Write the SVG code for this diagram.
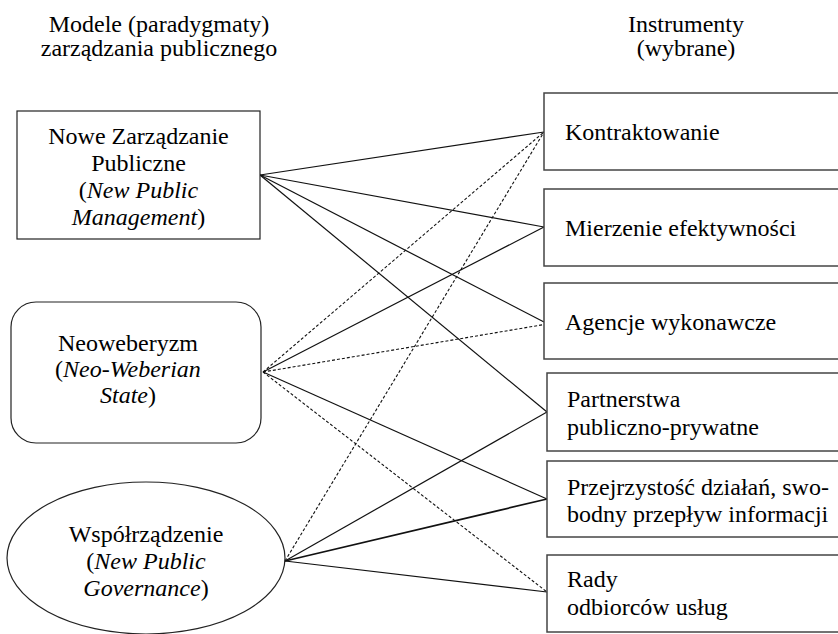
<svg xmlns="http://www.w3.org/2000/svg" width="838" height="634" viewBox="0 0 838 634">
<rect width="838" height="634" fill="#fff"/>
<g id="headers">
<text text-anchor="middle" x="159" y="32" font-family="Liberation Serif" font-size="24">Modele (paradygmaty)</text>
<text text-anchor="middle" x="159" y="56" font-family="Liberation Serif" font-size="24">zarz&#261;dzania publicznego</text>
<text text-anchor="middle" x="686" y="32" font-family="Liberation Serif" font-size="24">Instrumenty</text>
<text text-anchor="middle" x="686" y="56" font-family="Liberation Serif" font-size="24">(wybrane)</text>
</g>
<g id="connectors" stroke="#111" stroke-width="1.2" fill="none">
<line x1="260" y1="175" x2="544" y2="132"/>
<line x1="260" y1="175" x2="544" y2="227"/>
<line x1="260" y1="175" x2="544" y2="322"/>
<line x1="260" y1="175" x2="547" y2="412"/>
<line x1="263" y1="372" x2="544" y2="132" stroke-dasharray="3 2" stroke-width="1.1"/>
<line x1="263" y1="372" x2="544" y2="227"/>
<line x1="263" y1="372" x2="553" y2="323" stroke-dasharray="3 2" stroke-width="1.1"/>
<line x1="263" y1="372" x2="547" y2="499"/>
<line x1="263" y1="372" x2="547" y2="592" stroke-dasharray="3 2" stroke-width="1.1"/>
<line x1="285" y1="561" x2="544" y2="132" stroke-dasharray="3 2" stroke-width="1.1"/>
<line x1="285" y1="561" x2="547" y2="412"/>
<line x1="285" y1="561" x2="547" y2="499" stroke-width="1.7"/>
<line x1="285" y1="561" x2="547" y2="592"/>
</g>
<g id="nzp">
<rect x="17" y="111" width="243" height="128" fill="#fff" stroke="#222" stroke-width="1.2"/>
<text text-anchor="middle" x="138.5" y="144" font-family="Liberation Serif" font-size="24">Nowe Zarz&#261;dzanie</text>
<text text-anchor="middle" x="138.5" y="171" font-family="Liberation Serif" font-size="24">Publiczne</text>
<text text-anchor="middle" x="138.5" y="198" font-family="Liberation Serif" font-size="24">(<tspan font-style="italic">New Public</tspan></text>
<text text-anchor="middle" x="138.5" y="225" font-family="Liberation Serif" font-size="24"><tspan font-style="italic">Management</tspan>)</text>
</g>
<g id="neo">
<rect x="11" y="302" width="250" height="141" rx="25" ry="25" fill="#fff" stroke="#222" stroke-width="1.2"/>
<text text-anchor="middle" x="128" y="351" font-family="Liberation Serif" font-size="24">Neoweberyzm</text>
<text text-anchor="middle" x="128" y="377" font-family="Liberation Serif" font-size="24">(<tspan font-style="italic">Neo-Weberian</tspan></text>
<text text-anchor="middle" x="128" y="403" font-family="Liberation Serif" font-size="24"><tspan font-style="italic">State</tspan>)</text>
</g>
<g id="npg">
<ellipse cx="146" cy="558" rx="139" ry="76" fill="#fff" stroke="#222" stroke-width="1.2"/>
<text text-anchor="middle" x="146" y="542" font-family="Liberation Serif" font-size="24">Wsp&#243;&#322;rz&#261;dzenie</text>
<text text-anchor="middle" x="146" y="569" font-family="Liberation Serif" font-size="24">(<tspan font-style="italic">New Public</tspan></text>
<text text-anchor="middle" x="146" y="596" font-family="Liberation Serif" font-size="24"><tspan font-style="italic">Governance</tspan>)</text>
</g>
<g id="kontr">
<rect x="544" y="93" width="300" height="77" fill="#fff" stroke="#444" stroke-width="1.5"/>
<text x="565" y="140" font-family="Liberation Serif" font-size="24">Kontraktowanie</text>
</g>
<g id="mierz">
<rect x="544" y="189" width="300" height="77" fill="#fff" stroke="#444" stroke-width="1.5"/>
<text x="565" y="236" font-family="Liberation Serif" font-size="24">Mierzenie efektywno&#347;ci</text>
</g>
<g id="agencje">
<rect x="544" y="283" width="300" height="76" fill="#fff" stroke="#444" stroke-width="1.5"/>
<text x="565" y="330" font-family="Liberation Serif" font-size="24">Agencje wykonawcze</text>
</g>
<g id="ppp">
<rect x="547" y="373" width="300" height="78" fill="#fff" stroke="#444" stroke-width="1.5"/>
<text x="567" y="407" font-family="Liberation Serif" font-size="24">Partnerstwa</text>
<text x="567" y="435" font-family="Liberation Serif" font-size="24">publiczno-prywatne</text>
</g>
<g id="przej">
<rect x="547" y="461" width="300" height="76" fill="#fff" stroke="#444" stroke-width="1.5"/>
<text x="567" y="495" font-family="Liberation Serif" font-size="24">Przejrzysto&#347;&#263; dzia&#322;a&#324;, swo-</text>
<text x="567" y="522" font-family="Liberation Serif" font-size="24">bodny przep&#322;yw informacji</text>
</g>
<g id="rady">
<rect x="547" y="555" width="300" height="77" fill="#fff" stroke="#444" stroke-width="1.5"/>
<text x="567" y="587" font-family="Liberation Serif" font-size="24">Rady</text>
<text x="567" y="615" font-family="Liberation Serif" font-size="24">odbiorc&#243;w us&#322;ug</text>
</g>
</svg>
